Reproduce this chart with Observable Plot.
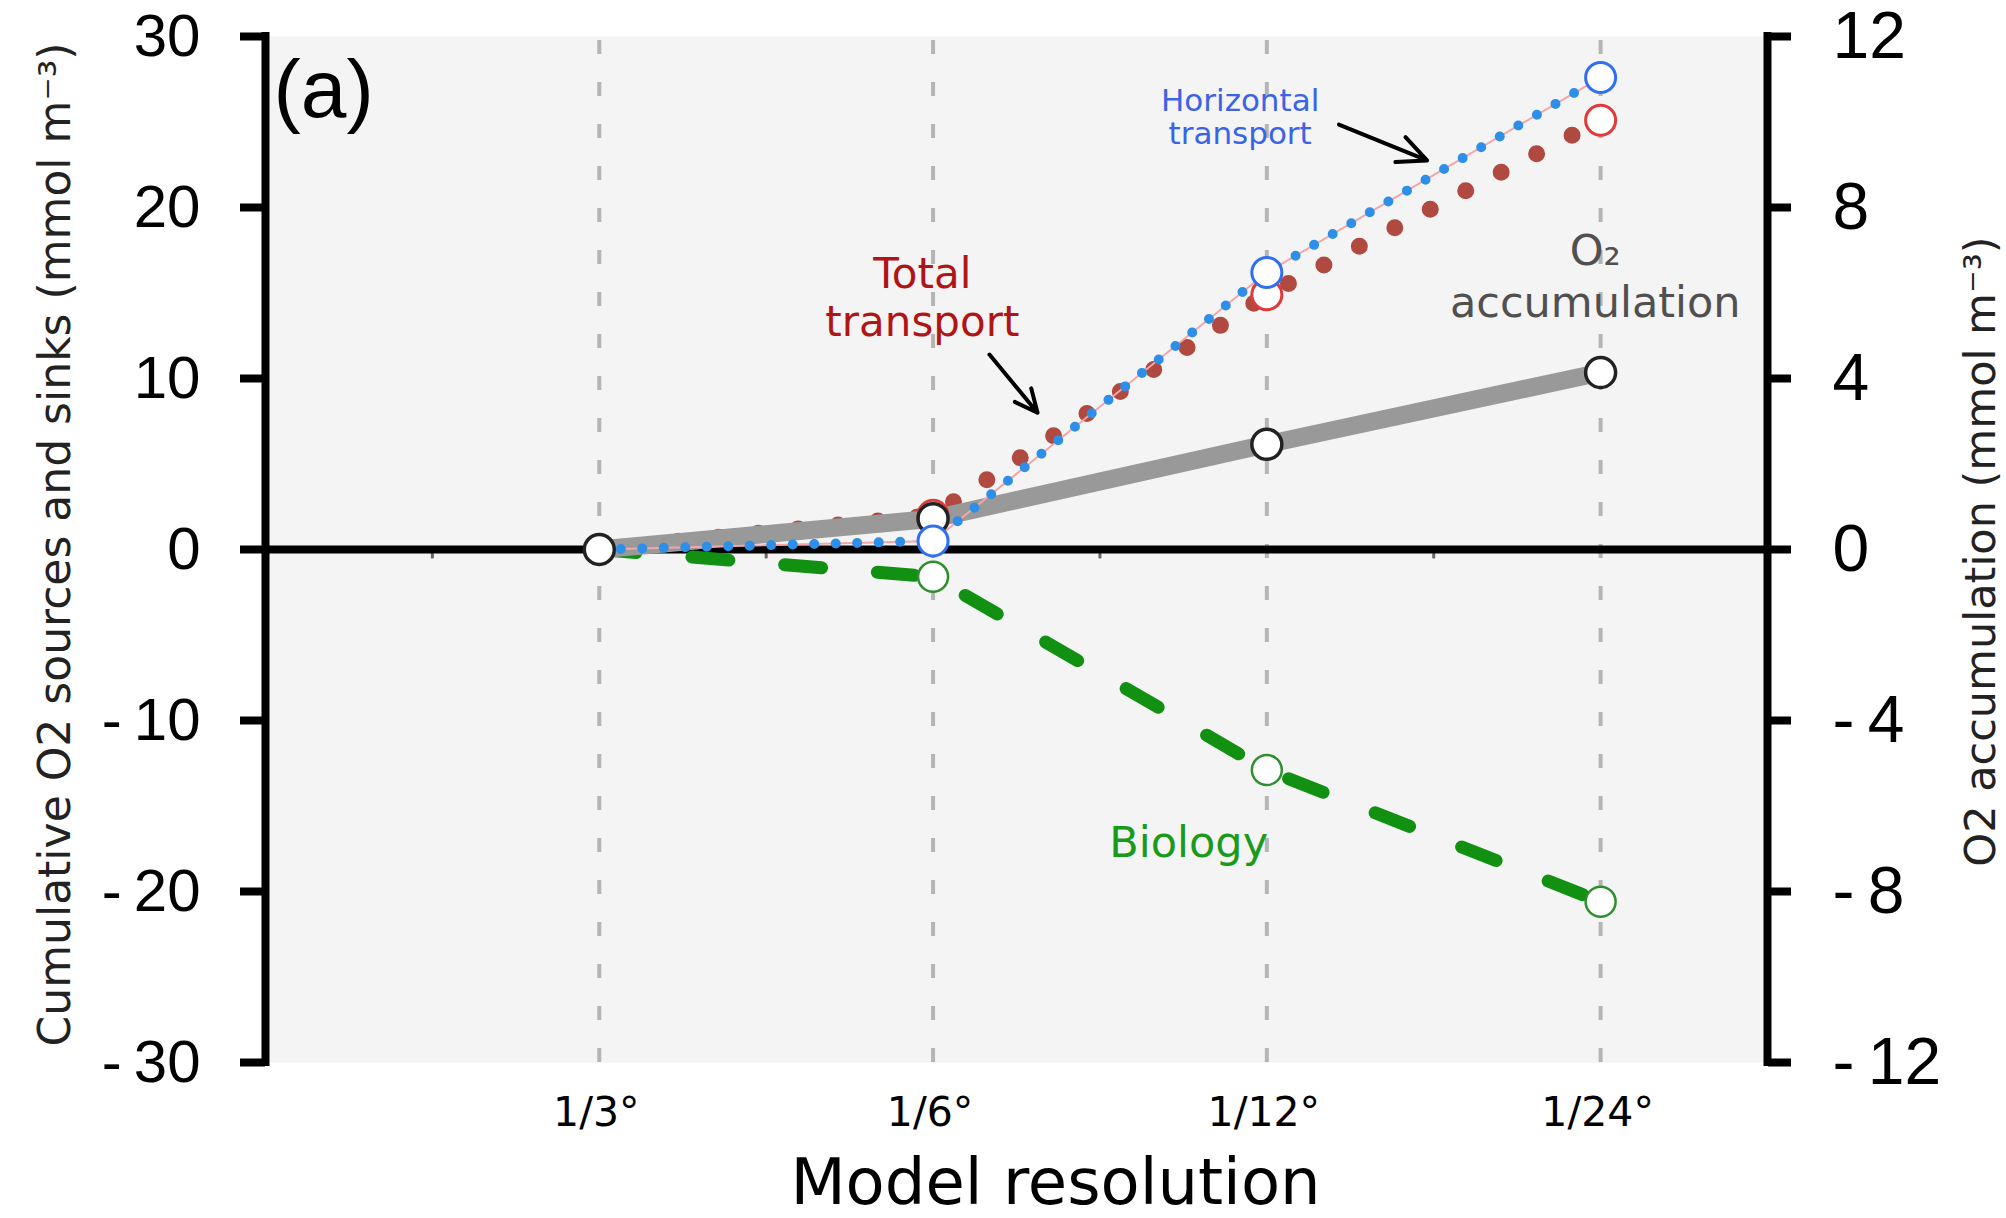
<!DOCTYPE html>
<html><head><meta charset="utf-8">
<script src="https://cdn.jsdelivr.net/npm/d3@7"></script>
<script src="https://cdn.jsdelivr.net/npm/@observablehq/plot@0.6"></script>
<style>body{margin:0;background:#fff}</style>
</head><body><div id="chart"></div>
<script>
// ---- data ----
const resolutions = ["1/3°", "1/6°", "1/12°", "1/24°"];
const xIndex = [1, 2, 3, 4];
const totalTransport = [0, 2.0, 14.9, 25.1];        // left axis
const horizontalTransport = [0, 0.5, 16.2, 27.6];   // left axis
const biology = [0, -1.6, -12.9, -20.6];            // left axis
const o2Accumulation = [0, 0.72, 2.46, 4.14];       // right axis
const leftTicks = [-30, -20, -10, 0, 10, 20, 30];
const rightTicks = [-12, -8, -4, 0, 4, 8, 12];
const minorTicks = [0.5, 1.5, 2.5, 3.5];
const axisRatio = 2.5; // left units per right unit

const leftAxisLabel = "Cumulative O2 sources and sinks (mmol m\u207B\u00B3)";
const rightAxisLabel = "O2 accumulation (mmol m\u207B\u00B3)";
const xAxisLabel = "Model resolution";

// annotation anchors (data units)
const panelNote = [{x: 0.024, y: 25.3, label: "(a)"}];
const horizNote = [{x: 2.92, y: 23.74, label: "Horizontal\ntransport"}];
const totalNote = [{x: 1.968, y: 12.5, label: "Total\ntransport"}];
const o2Note = [{x: 3.984, y: 13.57, label: "O\u2082\naccumulation"}];
const bioNote = [{x: 2.766, y: -18.0, label: "Biology"}];
const horizArrow = [{x1: 3.216, y1: 24.85, x2: 3.48, y2: 22.75}];
const totalArrow = [{x1: 2.169, y1: 11.4, x2: 2.313, y2: 8.0}];

const rows = (vals, k = 1) => xIndex.map((x, i) => ({x, y: vals[i] * k}));
const fmt = d => d < 0 ? "-\u2009" + (-d) : String(d);
const DJ = "DejaVu Sans, Verdana, sans-serif";

const chart = Plot.plot({
  width: 2006, height: 1218,
  marginLeft: 265, marginRight: 239, marginTop: 36, marginBottom: 156,
  x: {domain: [0, 4.5]},
  y: {domain: [-30, 30]},
  style: {fontFamily: "Liberation Sans, Arial, sans-serif", background: "white", color: "black", overflow: "visible"},
  marks: [
    Plot.frame({fill: "#f4f4f4", stroke: "none"}),
    Plot.ruleX(xIndex, {y1: -30, y2: 30, stroke: "#b5b5b5", strokeWidth: 4, strokeDasharray: "14 28"}),
    Plot.ruleX(minorTicks, {y1: 0, y2: -0.55, stroke: "#666", strokeWidth: 3}),
    Plot.ruleY([0], {stroke: "black", strokeWidth: 8}),
    Plot.line(rows(biology), {x: "x", y: "y", stroke: "#119011", strokeWidth: 13, strokeDasharray: "37 56", strokeLinecap: "round"}),
    Plot.line(rows(totalTransport), {x: "x", y: "y", stroke: "#b0493f", strokeWidth: 17, strokeDasharray: "0 40", strokeLinecap: "round"}),
    Plot.line(rows(o2Accumulation, axisRatio), {x: "x", y: "y", stroke: "#999999", strokeWidth: 18}),
    Plot.line(rows(horizontalTransport), {x: "x", y: "y", stroke: "#f5a5a5", strokeWidth: 2}),
    Plot.line(rows(horizontalTransport), {x: "x", y: "y", stroke: "#2e8fe8", strokeWidth: 10, strokeDasharray: "0 21.5", strokeLinecap: "round"}),
    Plot.dot(rows(totalTransport), {x: "x", y: "y", filter: d => d.x > 1, r: 15, fill: "white", stroke: "#e03a3a", strokeWidth: 3}),
    Plot.dot(rows(o2Accumulation, axisRatio), {x: "x", y: "y", r: 15, fill: "white", stroke: "#222", strokeWidth: 3.5}),
    Plot.dot(rows(horizontalTransport), {x: "x", y: "y", filter: d => d.x > 1, r: 15, fill: "white", stroke: "#2f6ff0", strokeWidth: 3}),
    Plot.dot(rows(biology), {x: "x", y: "y", filter: d => d.x > 1, r: 15, fill: "white", stroke: "#2f8f2f", strokeWidth: 2.5}),
    Plot.ruleX([0], {y1: -30, y2: 30, stroke: "black", strokeWidth: 8, strokeLinecap: "square"}),
    Plot.ruleX([4.5], {y1: -30, y2: 30, stroke: "black", strokeWidth: 8, strokeLinecap: "square"}),
    Plot.axisY({anchor: "left", ticks: leftTicks, tickSize: 25, tickPadding: 40, strokeWidth: 8, fontSize: 60, tickFormat: fmt, label: null}),
    Plot.axisY({anchor: "right", ticks: rightTicks.map(v => v * axisRatio), tickSize: 23, tickPadding: 42, strokeWidth: 8, fontSize: 66, tickFormat: d => fmt(Math.round(d / axisRatio)), label: null}),
    Plot.axisX({ticks: xIndex, tickSize: 0, tickPadding: 34, tickFormat: d => resolutions[d - 1], fontSize: 41, fontFamily: DJ, label: null, dx: -3}),
    Plot.text([leftAxisLabel], {frameAnchor: "left", rotate: -90, dx: -196, dy: -5, textAnchor: "middle", lineAnchor: "bottom", fontSize: 44, fontFamily: DJ, fill: "#222"}),
    Plot.text([rightAxisLabel], {frameAnchor: "right", rotate: -90, dx: 227, dy: 2, textAnchor: "middle", lineAnchor: "bottom", fontSize: 43, fontFamily: DJ, fill: "#222"}),
    Plot.text([xAxisLabel], {frameAnchor: "bottom", dx: 39, dy: 141, textAnchor: "middle", lineAnchor: "bottom", fontSize: 64, fontFamily: DJ, fill: "black"}),
    Plot.text(panelNote, {x: "x", y: "y", text: "label", textAnchor: "start", lineAnchor: "bottom", fontSize: 82, fill: "black"}),
    Plot.text(horizNote, {x: "x", y: "y", text: "label", textAnchor: "middle", lineAnchor: "bottom", lineHeight: 1.06, fontSize: 31, fontFamily: DJ, fill: "#3a63e6"}),
    Plot.text(totalNote, {x: "x", y: "y", text: "label", textAnchor: "middle", lineAnchor: "bottom", lineHeight: 1.14, fontSize: 42, fontFamily: DJ, fill: "#b01515"}),
    Plot.text(o2Note, {x: "x", y: "y", text: "label", textAnchor: "middle", lineAnchor: "bottom", lineHeight: 1.21, fontSize: 43, fontFamily: DJ, fill: "#505050"}),
    Plot.text(bioNote, {x: "x", y: "y", text: "label", textAnchor: "middle", lineAnchor: "bottom", fontSize: 43, fontFamily: DJ, fill: "#1a9a1a"}),
    Plot.arrow(horizArrow, {x1: "x1", y1: "y1", x2: "x2", y2: "y2", stroke: "black", strokeWidth: 4, headLength: 22, headAngle: 50}),
    Plot.arrow(totalArrow, {x1: "x1", y1: "y1", x2: "x2", y2: "y2", stroke: "black", strokeWidth: 4, headLength: 22, headAngle: 50})
  ]
});
document.getElementById("chart").appendChild(chart);
</script>
</body></html>
